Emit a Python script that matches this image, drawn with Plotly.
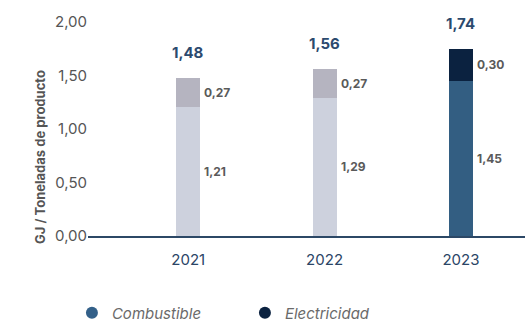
import plotly.graph_objects as go

# Energy intensity per year (GJ per tonne of product)
years = ["2021", "2022", "2023"]
combustible = [1.21, 1.29, 1.45]
electricidad = [0.27, 0.27, 0.30]
totales = [1.48, 1.56, 1.74]

y_ticks = [0, 0.5, 1.0, 1.5, 2.0]
y_tick_text = ["0,00", "0,50", "1,00", "1,50", "2,00"]
y_title = "GJ / Toneladas de producto"

# Bar colours: earlier years in muted greys, latest year highlighted
comb_colors = ["#cdd1dd", "#cdd1dd", "#335e82"]
elec_colors = ["#b5b4c0", "#b5b4c0", "#0b2240"]
legend_comb = "#336089"
legend_elec = "#0b2240"

FONT = "Inter"
fmt = lambda v: f"{v:.2f}".replace(".", ",")

fig = go.Figure()
fig.add_trace(go.Bar(x=years, y=combustible, marker=dict(color=comb_colors, line=dict(width=0)),
                     width=0.175, showlegend=False, hoverinfo="skip"))
fig.add_trace(go.Bar(x=years, y=electricidad, marker=dict(color=elec_colors, line=dict(width=0)),
                     width=0.175, showlegend=False, hoverinfo="skip"))

# Legend entries as circles
fig.add_trace(go.Scatter(x=[None], y=[None], mode="markers", name="Combustible",
                         marker=dict(color=legend_comb, size=13, symbol="circle")))
fig.add_trace(go.Scatter(x=[None], y=[None], mode="markers", name="Electricidad",
                         marker=dict(color=legend_elec, size=13, symbol="circle")))

annotations = []
for i, (c, e, t) in enumerate(zip(combustible, electricidad, totales)):
    annotations.append(dict(x=i, y=c / 2, xref="x", yref="y", text=f"<b>{fmt(c)}</b>",
                            showarrow=False, xanchor="left", xshift=14,
                            font=dict(family=FONT, size=12, color="#5a5a5a")))
    annotations.append(dict(x=i, y=c + e / 2, xref="x", yref="y", text=f"<b>{fmt(e)}</b>",
                            showarrow=False, xanchor="left", xshift=14,
                            font=dict(family=FONT, size=12, color="#5a5a5a")))
    annotations.append(dict(x=i, y=c + e, xref="x", yref="y", text=f"<b>{fmt(t)}</b>",
                            showarrow=False, yanchor="bottom", yshift=14,
                            font=dict(family=FONT, size=15, color="#2c4a6e")))

# Vertical axis title, set slightly below the plot's centre
annotations.append(dict(x=40 / 525, y=1 - 157 / 324, xref="paper", yref="paper",
                        text=f"<b>{y_title}</b>", textangle=-90, showarrow=False,
                        xanchor="center", yanchor="middle",
                        font=dict(family=FONT, size=13, color="#555555")))

fig.update_layout(
    width=525, height=324,
    margin=dict(l=0, r=0, t=0, b=0, autoexpand=False),
    paper_bgcolor="white", plot_bgcolor="white",
    barmode="stack",
    font=dict(family=FONT),
    annotations=annotations,
    legend=dict(orientation="h", xref="container", x=0.137, xanchor="left",
                yref="container", y=0.034, yanchor="middle",
                traceorder="normal",
                entrywidth=128, entrywidthmode="pixels",
                font=dict(family=FONT, size=15, color="#6a6a6a", style="italic"),
                itemsizing="constant"),
    xaxis=dict(type="category", domain=[88 / 525, 1.0], range=[-0.735, 2.47],
               showline=True, linecolor="#2c4866",
               linewidth=2, showgrid=False, zeroline=False, ticks="", ticklabelstandoff=9,
               tickfont=dict(family=FONT, size=15, color="#2b4566")),
    yaxis=dict(domain=[1 - 236 / 324, 1 - 22 / 324], range=[0, 2.0],
               tickvals=y_ticks, ticktext=y_tick_text,
               showgrid=False, zeroline=False, showline=False, ticks="",
               tickfont=dict(family=FONT, size=15, color="#555555")),
)

fig.write_html("out.html")
